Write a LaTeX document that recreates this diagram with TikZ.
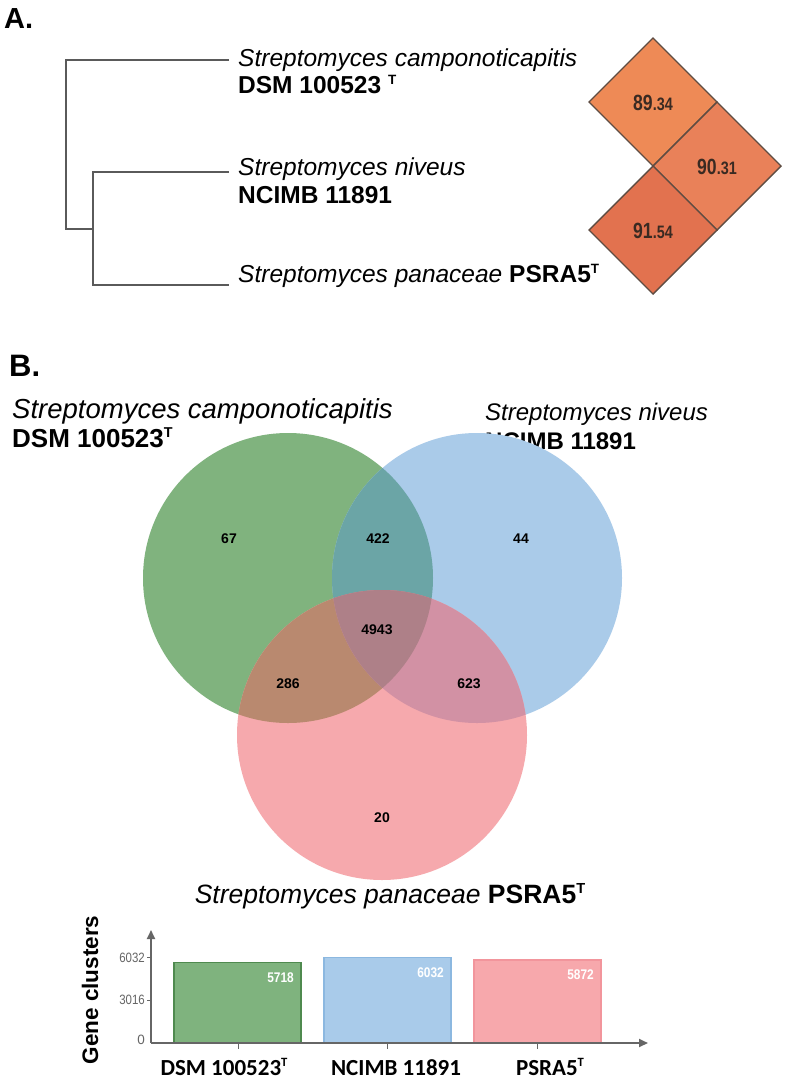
\documentclass[tikz,border=0pt]{standalone}
\usepackage{fontspec}
\setmainfont{Liberation Sans}
\newfontfamily\calib{Carlito}
\usetikzlibrary{arrows.meta}
\definecolor{treegray}{HTML}{5A5A5A}
\definecolor{dA}{HTML}{EE8A56}
\definecolor{dB}{HTML}{E98159}
\definecolor{dC}{HTML}{E2724F}
\definecolor{dline}{HTML}{5E4C42}
\definecolor{dtext}{HTML}{3A2A22}
\definecolor{vG}{HTML}{80B37E}
\definecolor{vB}{HTML}{AACBE9}
\definecolor{vP}{HTML}{F6A9AD}
\definecolor{vGB}{HTML}{6BA5A6}
\definecolor{vGP}{HTML}{B9896F}
\definecolor{vBP}{HTML}{D291A4}
\definecolor{vGBP}{HTML}{AE8088}
\definecolor{bG}{HTML}{7FB37E}
\definecolor{bGd}{HTML}{4F8A4F}
\definecolor{bB}{HTML}{A9CBEA}
\definecolor{bBd}{HTML}{8CB8E0}
\definecolor{bP}{HTML}{F7A8AC}
\definecolor{bPd}{HTML}{F2959C}
\definecolor{axgray}{HTML}{666666}
\newcommand\supT{\raisebox{0.36em}{\scalebox{0.55}{T}}}
\tikzset{
  tree/.style={draw=treegray, line width=1.6pt},
  labA/.style={anchor=base west, inner sep=0, font=\fontsize{24.5}{28}\selectfont},
  diam/.style={draw=dline, line width=1.4pt, line join=miter},
  dtxt/.style={inner sep=0, text=dtext, font=\fontsize{22}{24}\selectfont\bfseries},
  vnum/.style={inner sep=0, font=\fontsize{14}{16}\selectfont\bfseries},
  bar/.style={line width=1.5pt},
  bval/.style={anchor=base east, inner sep=0, text=white, font=\fontsize{14}{16}\selectfont\bfseries},
  tlab/.style={anchor=east, inner sep=0, text=axgray, font=\fontsize{13.5}{15}\selectfont},
  cat/.style={anchor=base, inner sep=0, text depth=0pt, font=\calib\fontsize{23}{26}\selectfont\bfseries},
  axis/.style={draw=axgray, line width=1.8pt},
}
\begin{document}
\begin{tikzpicture}[x=1pt,y=-1pt]
\useasboundingbox (0,0) rectangle (788,1079);
\fill[white] (0,0) rectangle (788,1079);

% ---------- A ----------
\node[anchor=base west, inner sep=0, font=\fontsize{29}{30}\selectfont\bfseries] (hA) at (4,28) {A.};

\coordinate (leaf1) at (229,60);
\coordinate (leaf2) at (229,172);
\coordinate (leaf3) at (229,285);
\coordinate (root) at (66,229);
\coordinate (inner) at (93,229);
\draw[tree] (leaf1) -| (root) -- (inner);
\draw[tree] (leaf2) -| (inner) |- (leaf3);

\node[labA] (a1) at (238,66) {\textit{Streptomyces camponoticapitis}};
\node[labA] (a1b) at (238,93) {\textbf{DSM 100523 \supT}};
\node[labA] (a2) at (238,175) {\textit{Streptomyces niveus}};
\node[labA] (a2b) at (238,203) {\textbf{NCIMB 11891}};
\node[labA] (a3) at (238,282) {\textit{Streptomyces panaceae} \textbf{PSRA5\supT}};

\coordinate (d1) at (653,102);
\coordinate (d2) at (717,166);
\coordinate (d3) at (653,230);
\path[diam, fill=dA] (d1) ++(0,-64) -- ++(64,64) -- ++(-64,64) -- ++(-64,-64) -- cycle;
\path[diam, fill=dB] (d2) ++(0,-64) -- ++(64,64) -- ++(-64,64) -- ++(-64,-64) -- cycle;
\path[diam, fill=dC] (d3) ++(0,-64) -- ++(64,64) -- ++(-64,64) -- ++(-64,-64) -- cycle;
\node[dtxt] (t1) at ([yshift=-1]d1) {\scalebox{0.8}[1]{89{\fontsize{18}{20}\selectfont.34}}};
\node[dtxt] (t2) at ([yshift=-1]d2) {\scalebox{0.8}[1]{90{\fontsize{18}{20}\selectfont.31}}};
\node[dtxt] (t3) at ([yshift=-1]d3) {\scalebox{0.8}[1]{91{\fontsize{18}{20}\selectfont.54}}};

% ---------- B ----------
\node[anchor=base west, inner sep=0, font=\fontsize{31}{34}\selectfont\bfseries] (hB) at (9,376) {B.};
\node[anchor=base west, inner sep=0, font=\fontsize{27.5}{30}\selectfont] (b1) at (12,418) {\textit{Streptomyces camponoticapitis}};
\node[anchor=base west, inner sep=0, font=\fontsize{26}{30}\selectfont] (b1b) at (12,447) {\textbf{DSM 100523\supT}};
\node[anchor=base west, inner sep=0, font=\fontsize{24}{28}\selectfont] (b2) at (485,420) {\textit{Streptomyces niveus}};
\node[anchor=base west, inner sep=0, font=\fontsize{24}{28}\selectfont] (b2b) at (485,449) {\textbf{NCIMB 11891}};

\coordinate (cg) at (288,578);
\coordinate (cb) at (477,578);
\coordinate (cp) at (382,735);
\def\rr{145}
\fill[vG] (cg) circle (\rr);
\fill[vB] (cb) circle (\rr);
\fill[vP] (cp) circle (\rr);
\begin{scope}
  \clip (cg) circle (\rr);
  \fill[vGB] (cb) circle (\rr);
  \fill[vGP] (cp) circle (\rr);
\end{scope}
\begin{scope}
  \clip (cb) circle (\rr);
  \fill[vBP] (cp) circle (\rr);
\end{scope}
\begin{scope}
  \clip (cg) circle (\rr);
  \clip (cb) circle (\rr);
  \fill[vGBP] (cp) circle (\rr);
\end{scope}
\node[vnum] (n67) at (229,539) {67};
\node[vnum] (n422) at (378,539) {422};
\node[vnum] (n44) at (521,539) {44};
\node[vnum] (n4943) at (377,630) {4943};
\node[vnum] (n286) at (288,684) {286};
\node[vnum] (n623) at (469,684) {623};
\node[vnum] (n20) at (382,818) {20};

\node[anchor=base, inner sep=0, font=\fontsize{26.5}{30}\selectfont] (b3) at (390,903) {\textit{Streptomyces panaceae} \textbf{PSRA5\supT}};

% ---------- bar chart ----------
\coordinate (o) at (151,1043);
\coordinate (ytop) at (151,930);
\coordinate (xend) at (648,1043);
\fill[bG] (174,1043) rectangle (301,962.4);
\draw[bar, draw=bGd] (174,1043) |- (301,962.4) -- (301,1043);
\fill[bB] (324,1043) rectangle (451,957.5);
\draw[bar, draw=bBd] (324,1043) |- (451,957.5) -- (451,1043);
\fill[bP] (474,1043) rectangle (601,960.2);
\draw[bar, draw=bPd] (474,1043) |- (601,960.2) -- (601,1043);

\draw[axis, -{Triangle[length=9pt,width=8pt]}] (o) -- (ytop);
\draw[axis, -{Triangle[length=9pt,width=8pt]}] (o) -- (xend);
\draw[draw=axgray, line width=1pt] (147,957.5) -- (151,957.5) (147,1000.3) -- (151,1000.3);
\draw[draw=axgray, line width=1pt] (238,1043) -- (238,1049) (387,1043) -- (387,1049) (537,1043) -- (537,1049);
\node[tlab] (y6032) at (145,958) {\scalebox{0.85}[1]{6032}};
\node[tlab] (y3016) at (145,1000) {\scalebox{0.85}[1]{3016}};
\node[tlab] (y0) at (145,1040) {0};

\node[bval] (v1) at (294,982) {\scalebox{0.85}[1]{5718}};
\node[bval] (v2) at (444,977) {\scalebox{0.85}[1]{6032}};
\node[bval] (v3) at (594,979) {\scalebox{0.85}[1]{5872}};

\node[cat] (c1) at (224,1075) {DSM 100523\supT};
\node[cat] (c2) at (396,1075) {NCIMB 11891};
\node[cat] (c3) at (550,1075) {PSRA5\supT};

\node[rotate=90, inner sep=0, font=\fontsize{22.5}{24}\selectfont\bfseries] (gc) at (90,990) {Gene clusters};
\end{tikzpicture}
\end{document}
